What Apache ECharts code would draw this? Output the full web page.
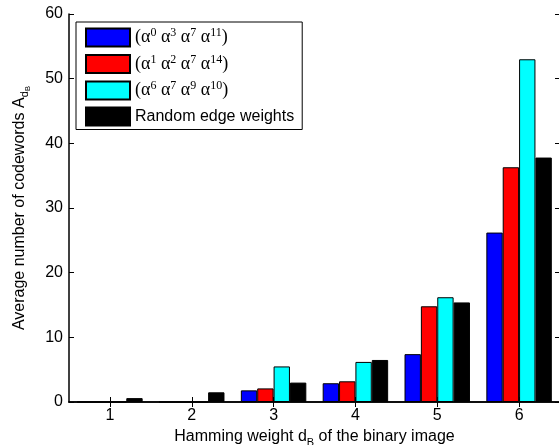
<!DOCTYPE html>
<html>
<head>
<meta charset="utf-8">
<script src="https://cdn.jsdelivr.net/npm/echarts@6/dist/echarts.min.js"></script>
<style>html,body{margin:0;padding:0;background:#fff;}#c{width:559px;height:445px;}</style>
</head>
<body>
<div id="c"></div>
<script>
const categories = ['1', '2', '3', '4', '5', '6'];
const yTicks = [0, 10, 20, 30, 40, 50, 60];
const exps1 = [0, 3, 7, 11];
const exps2 = [1, 2, 7, 14];
const exps3 = [6, 7, 9, 10];
const randomLabel = 'Random edge weights';
const set1 = [0, 0, 1.8, 2.9, 7.4, 26.2];
const set2 = [0, 0, 2.1, 3.2, 14.8, 36.3];
const set3 = [0, 0, 5.5, 6.2, 16.2, 53.0];
const randomSet = [0.6, 1.5, 3.0, 6.5, 15.4, 37.8];

const FONT = 'Liberation Sans';
const SERIF = 'Liberation Serif';

function alphaName(exps) {
  return 'a:' + exps.join(',');
}
function alphaRich(exps) {
  let s = '{g|(}';
  exps.forEach((e, i) => {
    s += '{g|α}{p|' + e + '}';
    if (i < exps.length - 1) s += '{g| }';
  });
  s += '{g|)}';
  return s;
}

const names = [alphaName(exps1), alphaName(exps2), alphaName(exps3), randomLabel];
const colors = ['#0000ff', '#ff0000', '#00ffff', '#000000'];
const values = [set1, set2, set3, randomSet];

const chart = echarts.init(document.getElementById('c'), null, {renderer: 'canvas'});

const axisLine = {show: true, lineStyle: {color: '#000', width: 1.5}};
const option = {
  animation: false,
  backgroundColor: '#fff',
  grid: {left: 69, top: 14, width: 491, height: 388, containLabel: false, outerBoundsMode: 'none'},
  legend: {
    orient: 'vertical',
    left: 76, top: 22,
    padding: [5, 8, 3, 9],
    icon: 'rect',
    itemWidth: 44, itemHeight: 18, itemGap: 6,
    backgroundColor: '#fff',
    borderColor: '#000', borderWidth: 1,
    data: names,
    formatter: function (n) {
      if (n === randomLabel) return '{t|' + n + '}';
      const ex = n.slice(2).split(',');
      return alphaRich(ex);
    },
    textStyle: {
      color: '#000', fontFamily: FONT, fontSize: 16,
      rich: {
        t: {fontFamily: FONT, fontSize: 16, color: '#000'},
        g: {fontFamily: SERIF, fontSize: 18, color: '#000'},
        p: {fontFamily: SERIF, fontSize: 12, color: '#000', padding: [0, 0, 9, 0]}
      }
    }
  },
  xAxis: [{
    type: 'category', data: categories, boundaryGap: true,
    axisLine: axisLine,
    axisTick: {show: true, inside: true, alignWithLabel: true, length: 5, lineStyle: {color: '#000', width: 1}},
    axisLabel: {color: '#000', fontFamily: FONT, fontSize: 16, margin: 6},
    name: '{a|Hamming weight d}{s|B}{a| of the binary image}',
    nameLocation: 'middle', nameGap: 24,
    nameTextStyle: {
      rich: {
        a: {fontFamily: FONT, fontSize: 16, color: '#000'},
        s: {fontFamily: FONT, fontSize: 11, color: '#000', padding: [11, 0, 0, 0]}
      }
    }
  }, {
    type: 'category', data: categories, boundaryGap: true, position: 'top',
    axisLine: axisLine,
    axisTick: {show: true, inside: true, alignWithLabel: true, length: 5, lineStyle: {color: '#000', width: 1}},
    axisLabel: {show: false}
  }],
  yAxis: [{
    type: 'value', min: yTicks[0], max: yTicks[yTicks.length - 1], interval: yTicks[1] - yTicks[0],
    axisLine: axisLine,
    splitLine: {show: false},
    axisTick: {show: true, inside: true, length: 5, lineStyle: {color: '#000', width: 1}},
    axisLabel: {color: '#000', fontFamily: FONT, fontSize: 16, margin: 6},
    name: '{a|Average number of codewords A}{s|d}{ss|B}',
    nameLocation: 'middle', nameGap: 37, nameRotate: 90,
    nameTextStyle: {
      rich: {
        a: {fontFamily: FONT, fontSize: 16, color: '#000'},
        s: {fontFamily: FONT, fontSize: 11, color: '#000', padding: [9, 0, 0, 0]},
        ss: {fontFamily: FONT, fontSize: 8, color: '#000', padding: [16, 0, 0, 0]}
      }
    }
  }, {
    type: 'value', min: yTicks[0], max: yTicks[yTicks.length - 1], interval: yTicks[1] - yTicks[0], position: 'right',
    axisLine: axisLine,
    splitLine: {show: false},
    axisTick: {show: true, inside: true, length: 5, lineStyle: {color: '#000', width: 1}},
    axisLabel: {show: false}
  }],
  series: names.map((n, i) => ({
    name: n, type: 'bar', data: values[i],
    xAxisIndex: 0, yAxisIndex: 0,
    barGap: '0%', barCategoryGap: '20%',
    itemStyle: {color: colors[i], borderColor: '#000', borderWidth: 1},
    emphasis: {disabled: true}
  }))
};
chart.setOption(option);
</script>
</body>
</html>
